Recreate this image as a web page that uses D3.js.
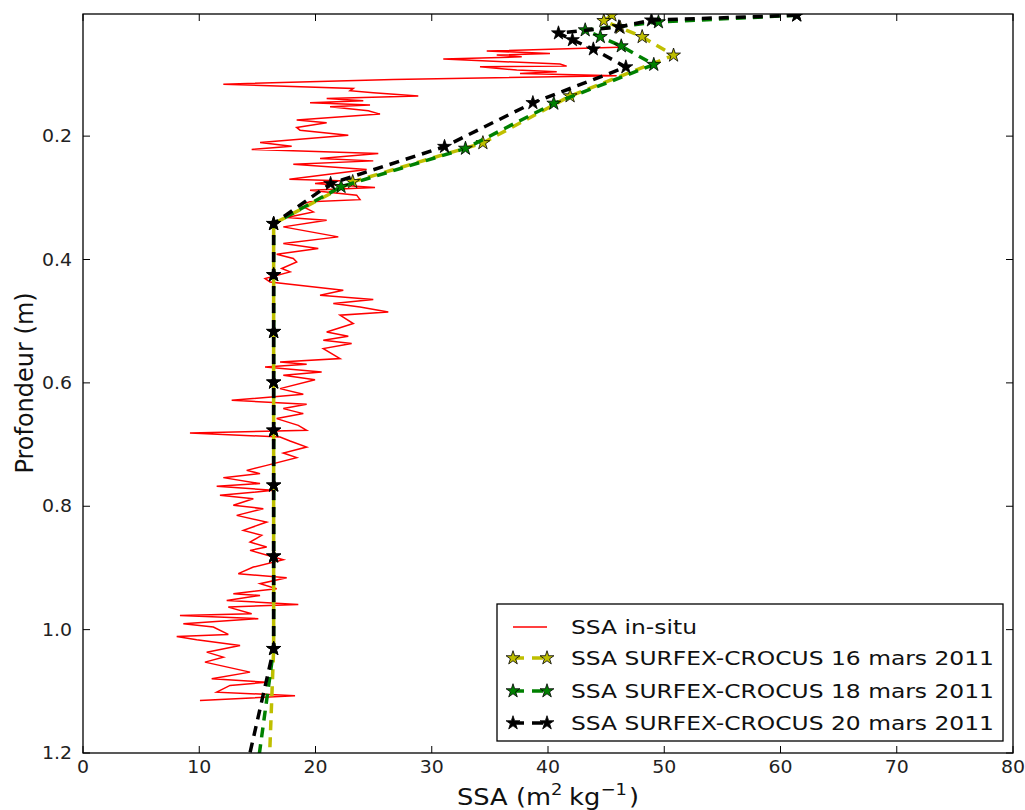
<!DOCTYPE html>
<html><head><meta charset="utf-8">
<script src="https://cdn.jsdelivr.net/npm/d3@7"></script>
<style>
html,body{margin:0;padding:0;background:#fff;}
svg{display:block;font-family:"DejaVu Sans",sans-serif;}
</style></head>
<body>
<svg id="chart" width="1025" height="810"></svg>
<script>
// ---------- data ----------
const insituDepth = [0.0561,0.0621,0.0659,0.0686,0.0714,0.0751,0.0832,0.0865,0.0876,0.0929,
0.0957,0.0983,0.1022,0.1080,0.1157,0.1226,0.1265,0.1298,0.1351,0.1388,
0.1427,0.1460,0.1497,0.1525,0.1590,0.1643,0.1740,0.1784,0.1859,0.1903,
0.1984,0.2102,0.2162,0.2216,0.2281,0.2362,0.2401,0.2454,0.2540,0.2697,
0.2725,0.2767,0.2832,0.2876,0.2957,0.3030,0.3062,0.3119,0.3228,0.3319,
0.3363,0.3471,0.3633,0.3740,0.3822,0.3914,0.3984,0.4039,0.4146,0.4201,
0.4308,0.4363,0.4498,0.4579,0.4649,0.4714,0.4769,0.4850,0.4903,0.5038,
0.5174,0.5244,0.5309,0.5363,0.5444,0.5606,0.5661,0.5698,0.5742,0.5823,
0.5877,0.5950,0.6093,0.6185,0.6282,0.6347,0.6417,0.6498,0.6579,0.6688,
0.6769,0.6813,0.6877,0.6942,0.7040,0.7137,0.7212,0.7337,0.7418,0.7471,
0.7536,0.7633,0.7677,0.7742,0.7823,0.7877,0.7985,0.8039,0.8148,0.8256,
0.8391,0.8472,0.8581,0.8662,0.8715,0.8866,0.8986,0.9093,0.9158,0.9255,
0.9337,0.9418,0.9445,0.9526,0.9591,0.9635,0.9742,0.9770,0.9823,0.9904,
0.9959,1.0078,1.0110,1.0164,1.0256,1.0365,1.0446,1.0527,1.0689,1.0796,
1.0852,1.0905,1.1014,1.1071,1.1148];
const insituSSA = [46.05,34.73,40.17,35.59,37.74,30.99,41.03,41.61,34.15,37.31,
40.75,37.59,45.91,26.69,12.07,23.25,22.97,24.97,28.84,20.96,
24.11,19.53,24.69,21.25,24.54,25.55,18.38,20.96,18.38,18.67,
22.82,15.23,17.95,14.51,25.40,20.39,24.97,18.09,24.40,17.75,
22.11,19.96,25.12,19.53,23.54,23.83,19.53,18.67,19.81,17.52,
20.96,17.23,21.96,17.23,20.24,16.66,18.09,18.38,17.09,17.81,
15.66,16.09,22.39,20.39,24.97,21.53,23.83,26.26,22.11,23.25,
20.96,22.82,20.67,23.11,20.67,22.11,16.95,19.24,15.66,20.53,
17.23,19.96,16.95,18.95,12.79,19.24,17.23,18.95,16.66,18.52,
19.24,9.20,16.95,17.81,19.24,17.23,18.38,15.80,14.08,15.23,
12.07,15.23,11.50,16.37,11.78,14.65,12.93,15.51,13.22,15.80,
13.79,15.37,14.37,15.80,14.37,17.23,14.65,13.36,17.52,15.23,
16.66,12.93,15.23,12.36,18.52,12.50,14.51,8.34,15.08,8.63,
11.21,12.50,8.06,9.78,13.51,10.64,12.07,10.49,14.37,11.07,
15.80,12.65,11.50,18.24,10.06];

const mar16Depth = [0.004,0.013,0.024,0.039,0.069,0.135,0.211,0.274,0.342,0.425,0.517,0.599,0.677,0.766,0.881,1.031,1.28];
const mar16SSA   = [45.5,44.8,46.2,48.1,50.8,41.9,34.4,23.2,16.4,16.4,16.4,16.4,16.4,16.4,16.4,16.4,15.9];
const mar18Depth = [0.004,0.015,0.028,0.039,0.054,0.084,0.147,0.220,0.282,0.342,0.425,0.517,0.599,0.677,0.766,0.881,1.031,1.28];
const mar18SSA   = [61.4,49.5,43.2,44.5,46.3,49.1,40.5,32.9,22.2,16.4,16.4,16.4,16.4,16.4,16.4,16.4,16.4,14.6];
const mar20Depth = [0.004,0.012,0.023,0.033,0.044,0.059,0.088,0.146,0.217,0.277,0.342,0.425,0.517,0.599,0.677,0.766,0.881,1.031,1.28];
const mar20SSA   = [61.4,48.9,46.1,40.9,42.1,43.9,46.7,38.7,31.1,21.3,16.4,16.4,16.4,16.4,16.4,16.4,16.4,16.4,13.4];

const xTicks = [0,10,20,30,40,50,60,70,80];
const yTicks = [0.2,0.4,0.6,0.8,1.0,1.2];
const seriesNames = ["SSA in-situ","SSA SURFEX-CROCUS 16 mars 2011","SSA SURFEX-CROCUS 18 mars 2011","SSA SURFEX-CROCUS 20 mars 2011"];

// ---------- layout ----------
const L = 83, R = 1013, T = 14, B = 753;
const svg = d3.select("#chart");
const x = d3.scaleLinear().domain([0,80]).range([L,R]);
const y = d3.scaleLinear().domain([0.002,1.2]).range([T,B]);
const SX = 1.12; // horizontal text stretch
const SXL = 1.17; // legend text stretch

svg.append("rect").attr("width",1025).attr("height",810).attr("fill","#fff");
svg.append("defs").append("clipPath").attr("id","clip")
  .append("rect").attr("x",L).attr("y",T).attr("width",R-L).attr("height",B-T);

const plot = svg.append("g").attr("clip-path","url(#clip)");

const line = d3.line().x(d=>x(d[0])).y(d=>y(d[1]));
// in-situ
plot.append("path").datum(d3.zip(insituSSA, insituDepth))
  .attr("d",line).attr("fill","none").attr("stroke","#ff0000").attr("stroke-width",1.5)
  .attr("stroke-linejoin","miter");

const models = [
  {ssa:mar16SSA, depth:mar16Depth, color:"#bfbf00"},
  {ssa:mar18SSA, depth:mar18Depth, color:"#008000"},
  {ssa:mar20SSA, depth:mar20Depth, color:"#000000"}
];
const star = d3.symbol().type(d3.symbolStar).size(60);
const DASH = "10,7";
models.forEach(m=>{
  const pts = d3.zip(m.ssa, m.depth);
  plot.append("path").datum(pts).attr("d",line).attr("fill","none")
    .attr("stroke",m.color).attr("stroke-width",3.5).attr("stroke-dasharray",DASH);
  plot.selectAll(null).data(pts).enter().append("path")
    .attr("d",star).attr("transform",d=>`translate(${x(d[0])},${y(d[1])})`)
    .attr("fill",m.color).attr("stroke","#000").attr("stroke-width",0.8);
});

// ---------- axes ----------
const TL = 7;
const axG = svg.append("g");
xTicks.forEach(t=>{
  axG.append("line").attr("x1",x(t)).attr("x2",x(t)).attr("y1",B).attr("y2",B-TL).attr("stroke","#000");
  axG.append("line").attr("x1",x(t)).attr("x2",x(t)).attr("y1",T).attr("y2",T+TL).attr("stroke","#000");
  axG.append("g").attr("transform",`translate(${x(t)},773) scale(1.08,1)`)
    .append("text").attr("text-anchor","middle").attr("font-size",17.5).attr("fill","#222").text(d3.format("d")(t));
});
yTicks.forEach(t=>{
  axG.append("line").attr("x1",L).attr("x2",L+TL).attr("y1",y(t)).attr("y2",y(t)).attr("stroke","#000");
  axG.append("line").attr("x1",R).attr("x2",R-TL).attr("y1",y(t)).attr("y2",y(t)).attr("stroke","#000");
  axG.append("g").attr("transform",`translate(72,${y(t)+6}) scale(1.08,1)`)
    .append("text").attr("text-anchor","end").attr("font-size",17.5).attr("fill","#222").text(d3.format(".1f")(t));
});
svg.append("rect").attr("x",L).attr("y",T).attr("width",R-L).attr("height",B-T)
  .attr("fill","none").attr("stroke","#000").attr("stroke-width",1.3);

// axis labels
const xl = svg.append("g").attr("transform",`translate(548,805) scale(${SX},1)`)
  .append("text").attr("text-anchor","middle").attr("font-size",23).attr("fill","#111");
xl.append("tspan").text("SSA (m");
xl.append("tspan").attr("font-size",16).attr("dy",-10).text("2");
xl.append("tspan").attr("dy",10).attr("dx",6).text("kg");
xl.append("tspan").attr("font-size",16).attr("dy",-10).text("\u22121");
xl.append("tspan").attr("dy",10).attr("dx",2).text(")");

svg.append("text").attr("transform","translate(33,383) rotate(-90)")
  .attr("text-anchor","middle").attr("font-size",24).attr("fill","#111").text("Profondeur (m)");

// ---------- legend ----------
const lg = svg.append("g");
lg.append("rect").attr("x",497).attr("y",604).attr("width",506).attr("height",137)
  .attr("fill","#fff").attr("stroke","#000").attr("stroke-width",1.3);
const rowY = [627,658,691,723];
const hx1 = 513, hx2 = 547;
lg.append("line").attr("x1",hx1).attr("x2",hx2).attr("y1",rowY[0]).attr("y2",rowY[0])
  .attr("stroke","#ff0000").attr("stroke-width",1.5);
models.forEach((m,i)=>{
  const yy = rowY[i+1];
  lg.append("line").attr("x1",hx1).attr("x2",hx2).attr("y1",yy).attr("y2",yy)
    .attr("stroke",m.color).attr("stroke-width",3.5).attr("stroke-dasharray","11,8");
  [hx1,hx2].forEach(px=>{
    lg.append("path").attr("d",star).attr("transform",`translate(${px},${yy})`)
      .attr("fill",m.color).attr("stroke","#000").attr("stroke-width",0.8);
  });
});
seriesNames.forEach((s,i)=>{
  lg.append("g").attr("transform",`translate(571,${rowY[i]+7}) scale(${SXL},1)`)
    .append("text").attr("font-size",20).attr("fill","#111").text(s);
});
</script>
</body></html>
